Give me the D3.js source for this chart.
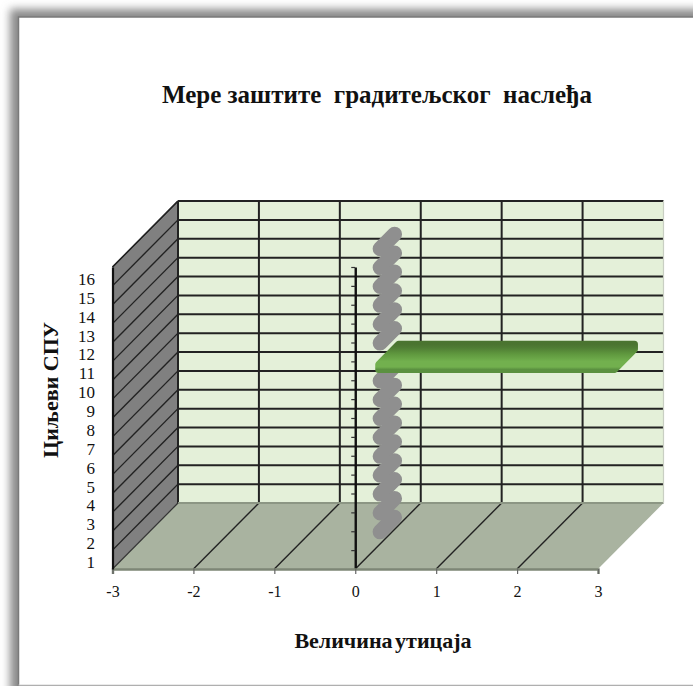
<!DOCTYPE html>
<html>
<head>
<meta charset="utf-8">
<script src="https://cdn.jsdelivr.net/npm/d3@7/dist/d3.min.js"></script>
<style>
  html, body { margin: 0; padding: 0; background: #fff; }
  svg { display: block; }
  text { font-family: "Liberation Serif", serif; fill: #111; }
</style>
</head>
<body>
<svg id="chart" width="693" height="686"></svg>
<script>
// Chart content
const chartTitle = "Мере заштите  градитељског  наслеђа";
const xAxisTitle = "Величина утицаја";
const yAxisTitle = "Циљеви СПУ";
const categories = [1, 2, 3, 4, 5, 6, 7, 8, 9, 10, 11, 12, 13, 14, 15, 16];
const impactValues = [0, 0, 0, 0, 0, 0, 0, 0, 0, 3, 0, 0, 0, 0, 0, 0];
const xTicks = [-3, -2, -1, 0, 1, 2, 3];

// Plot geometry: front plane plus the oblique offset of the back wall
const depthX = 65.5, depthY = 66;
const svg = d3.select("#chart");
const x = d3.scaleLinear().domain([-3, 3]).range([112.5, 598]);
const y = d3.scaleBand().domain(categories).range([569, 267]);
const project = (px, py, d) => [px + depthX * d, py - depthY * d];
const line = d3.line();

const defs = svg.append("defs");
defs.append("filter").attr("id", "frameShadow")
  .attr("x", "-5%").attr("y", "-5%").attr("width", "110%").attr("height", "110%")
  .append("feGaussianBlur").attr("stdDeviation", 4);

const barGradient = defs.append("linearGradient").attr("id", "barFill")
  .attr("x1", 0).attr("y1", 0).attr("x2", 0).attr("y2", 1);
[[0, "#4a7430"], [0.14, "#4f7d34"], [0.4, "#60993f"], [0.68, "#72b04e"], [0.9, "#72b04e"], [1, "#5b9140"]]
  .forEach(([o, c]) => barGradient.append("stop").attr("offset", o).attr("stop-color", c));

// Outer frame with its soft shadow
svg.append("rect").attr("x", 10).attr("y", 9).attr("width", 740).attr("height", 740)
  .attr("fill", "#8a8a8a").attr("filter", "url(#frameShadow)");
svg.append("rect").attr("x", 18.5).attr("y", 17).attr("width", 690).attr("height", 668)
  .attr("fill", "#fff");
svg.append("path").attr("fill", "none").attr("stroke", "#7a7a7a").attr("stroke-width", 1.5)
  .attr("d", line([[18.5, 686], [18.5, 17], [693, 17]]));
svg.append("path").attr("fill", "none").attr("stroke", "#d4d4d4").attr("stroke-width", 1)
  .attr("d", line([[18.5, 685], [693, 685]]));

// Walls and floor
const [x0, x1] = x.range();
const [yB, yT] = y.range();
const poly = (pts, fill) => svg.append("path").attr("d", line(pts) + "Z").attr("fill", fill);
poly([[x0, yB], [x0, yT], project(x0, yT, 1), project(x0, yB, 1)], "#808080");
poly([project(x0, yB, 1), project(x0, yT, 1), project(x1, yT, 1), project(x1, yB, 1)], "#e4f0d9");
poly([[x0, yB], project(x0, yB, 1), project(x1, yB, 1), [x1, yB]], "#a9b3a0");

// Gridlines, one per category boundary and value tick
const gridEdges = d3.range(1, categories.length + 1).map(i => yB - i * y.bandwidth());
const grid = svg.append("g").attr("fill", "none").attr("stroke", "#222");
grid.selectAll("path.back-h").data(gridEdges).join("path").attr("class", "back-h")
  .attr("stroke-width", 2)
  .attr("d", e => line([project(x0, e, 1), project(x1, e, 1)]));
grid.selectAll("path.side-h").data(gridEdges).join("path").attr("class", "side-h")
  .attr("stroke-width", 1.4)
  .attr("d", e => line([[x0, e], project(x0, e, 1)]));
grid.selectAll("path.back-v").data(xTicks.slice(0, -1)).join("path").attr("class", "back-v")
  .attr("stroke-width", 2)
  .attr("d", v => line([project(x(v), yT, 1), project(x(v), yB, 1)]));
grid.selectAll("path.floor").data(xTicks.slice(1, -1)).join("path").attr("class", "floor")
  .attr("stroke-width", 1.4)
  .attr("d", v => line([[x(v), yB], project(x(v), yB, 1)]));

// Edges of the box
svg.append("path").attr("fill", "none").attr("stroke", "#8c9684").attr("stroke-width", 2)
  .attr("d", line([project(x0, yB, 1), project(x1, yB, 1)]));
svg.append("path").attr("fill", "none").attr("stroke", "#c9cfc3").attr("stroke-width", 1.2)
  .attr("d", line([project(x1, yT, 1), project(x1, yB, 1)]));
svg.append("path").attr("fill", "none").attr("stroke", "#333").attr("stroke-width", 1.2)
  .attr("d", line([[x0, yB], project(x0, yB, 1)]));
svg.append("path").attr("fill", "none").attr("stroke", "#222").attr("stroke-width", 1.2)
  .attr("d", line([[x0, yT], project(x0, yT, 1)]));

// Bars: each sits in the middle third of the depth and of its band
const depthNear = 0.305, depthFar = 0.61, strokeW = 7;
const barEdges = c => {
  const top = y(c), bw = y.bandwidth();
  return { low: top + bw * 0.68, high: top + bw * 0.04 };
};
const barOutline = (c, v) => {
  const { low, high } = barEdges(c);
  const a = Math.min(x(0), x(v)), b = Math.max(x(0), x(v));
  const i = strokeW / 2;
  return [
    project(a + i, low - i, depthNear),
    project(b - i, low - i, depthNear),
    project(b - i, low - i, depthFar),
    project(b - i, high + i, depthFar),
    project(a + i, high + i, depthFar),
    project(a + i, high + i, depthNear)
  ];
};
const bars = categories.map((c, i) => ({ c, v: impactValues[i] })).reverse();

// A zero-valued bar collapses to its rounded end cap
const capPath = d => {
  const { low, high } = barEdges(d.c);
  const mid = (low + high) / 2;
  return line([project(x(d.v), mid, 0.38), project(x(d.v), mid, 0.6)]);
};
svg.append("g").selectAll("path").data(bars.filter(d => d.v === 0)).join("path")
  .attr("d", capPath)
  .attr("fill", "none").attr("stroke", "#8f8f8f")
  .attr("stroke-width", 15).attr("stroke-linecap", "round");

// Zero axis on the front plane
const zeroAxis = svg.append("g").attr("transform", `translate(${x(0)},0)`)
  .call(d3.axisLeft(d3.scaleLinear().domain([0, categories.length]).range([yB, yT]))
    .ticks(categories.length).tickSize(4).tickSizeOuter(0).tickFormat(""));
zeroAxis.select(".domain").attr("stroke", "#111").attr("stroke-width", 2.4);
zeroAxis.selectAll(".tick line").attr("stroke", "#333").attr("stroke-width", 1.2);

const valueBars = svg.append("g").selectAll("g").data(bars.filter(d => d.v !== 0)).join("g");
valueBars.append("path")
  .attr("d", d => line(barOutline(d.c, d.v)) + "Z")
  .attr("fill", "url(#barFill)").attr("stroke", "url(#barFill)")
  .attr("stroke-width", strokeW).attr("stroke-linejoin", "round");

// Value axis
const xAxis = svg.append("g").attr("transform", `translate(0,${yB})`)
  .call(d3.axisBottom(x).tickValues(xTicks).tickSize(5).tickPadding(12).tickFormat(d => String(d)));
xAxis.select(".domain").attr("stroke", "#7d8676").attr("stroke-width", 2.4);
xAxis.selectAll(".tick line").attr("stroke", "#666").attr("stroke-width", 1.2);
xAxis.selectAll("text").attr("font-size", 16).attr("font-family", "Liberation Serif").attr("fill", "#111");

// Category axis
const yAxis = svg.append("g").attr("transform", `translate(${x0},0)`)
  .call(d3.axisLeft(y).tickSize(0).tickPadding(17.5));
yAxis.select(".domain").attr("stroke", "#111").attr("stroke-width", 2.2);
yAxis.selectAll("text").attr("font-size", 17).attr("font-family", "Liberation Serif")
  .attr("fill", "#111").attr("dy", "0.5em");

// Titles
svg.append("text").attr("x", 377).attr("y", 103).attr("text-anchor", "middle")
  .attr("font-size", 25).attr("font-weight", "bold").attr("xml:space", "preserve")
  .style("white-space", "pre").text(chartTitle);
svg.append("text").attr("x", 383).attr("y", 648).attr("text-anchor", "middle")
  .attr("font-size", 22).attr("font-weight", "bold").attr("word-spacing", -3).text(xAxisTitle);
svg.append("text").attr("transform", "translate(58,390) rotate(-90)").attr("text-anchor", "middle")
  .attr("font-size", 22).attr("font-weight", "bold").text(yAxisTitle);
</script>
</body>
</html>
